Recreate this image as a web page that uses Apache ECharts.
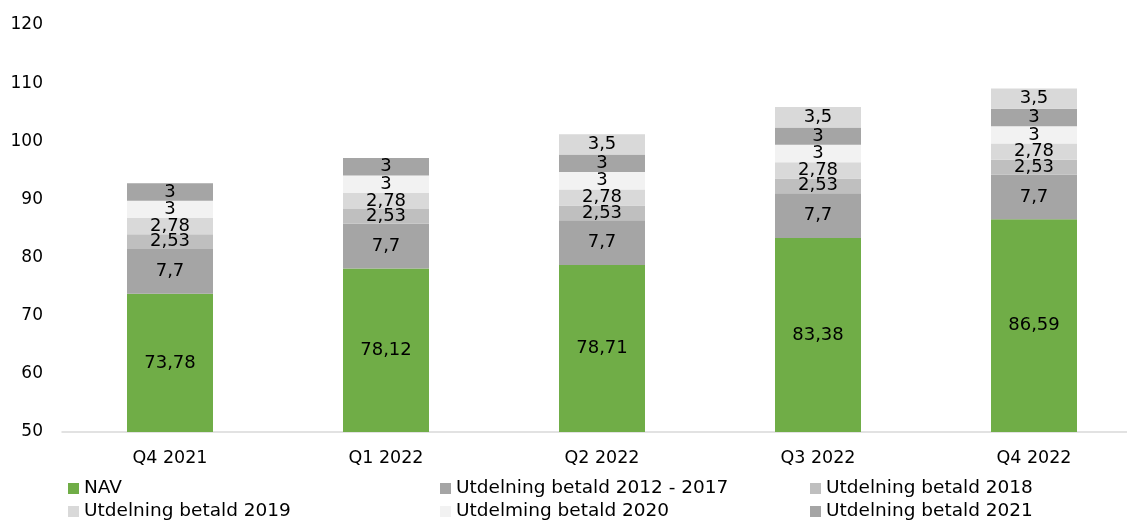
<!DOCTYPE html>
<html><head><meta charset="utf-8">
<script src="https://cdn.jsdelivr.net/npm/echarts@6/dist/echarts.min.js"></script>
<style>html,body{margin:0;padding:0;background:#fff}#c{width:1127px;height:520px}</style>
</head><body><div id="c"></div>
<script>
const categories = ['Q4 2021','Q1 2022','Q2 2022','Q3 2022','Q4 2022'];
const nav = [73.78, 78.12, 78.71, 83.38, 86.59];
const u2012_2017 = [7.7, 7.7, 7.7, 7.7, 7.7];
const u2018 = [2.53, 2.53, 2.53, 2.53, 2.53];
const u2019 = [2.78, 2.78, 2.78, 2.78, 2.78];
const u2020 = [3, 3, 3, 3, 3];
const u2021 = [3, 3, 3, 3, 3];
const u2022 = [null, null, 3.5, 3.5, 3.5];
const names = ['NAV','Utdelning betald 2012 - 2017','Utdelning betald 2018','Utdelning betald 2019','Utdelming betald 2020','Utdelning betald 2021','Utdelning betald 2022'];
const colors = ['#70ad47','#a5a5a5','#bfbfbf','#d9d9d9','#f2f2f2','#a5a5a5','#d9d9d9'];
const values = [nav,u2012_2017,u2018,u2019,u2020,u2021,u2022];
const FONT = 'DejaVu Sans';
const fmt = p => String(p.value).replace('.', ',');
const series = values.map((d,i)=>({
  name: names[i], type:'bar', stack:'s', data:d, barWidth:86,
  itemStyle:{color:colors[i]},
  label:{show:true, position:'inside', formatter:fmt, color:'#000', fontFamily:FONT, fontSize:18}
}));
// legend placement: column x, row y
const legendPos = [[68,478],[440,478],[810,478],[68,501],[440,501],[810,501],[68,524]];
const legends = names.map((n,i)=>({
  data:[n], left:legendPos[i][0], top:legendPos[i][1], orient:'horizontal',
  itemWidth:11, itemHeight:11, icon:'rect', padding:0,
  textStyle:{fontFamily:FONT, fontSize:18.5, color:'#000', lineHeight:21, padding:[0,0,0,0]}
}));
const chart = echarts.init(document.getElementById('c'));
chart.setOption({
  animation:false,
  grid:{left:62, top:25, width:1080, height:407, outerBoundsMode:'none', containLabel:false},
  legend:legends,
  xAxis:{type:'category', data:categories,
    axisLine:{lineStyle:{color:'#d9d9d9', width:1.5}}, axisTick:{show:false},
    axisLabel:{fontFamily:FONT, fontSize:17.5, color:'#000', margin:17}},
  yAxis:{type:'value', min:50, max:120, interval:10,
    splitLine:{show:false}, axisLine:{show:false}, axisTick:{show:false},
    axisLabel:{fontFamily:FONT, fontSize:17, color:'#000', margin:19}},
  series
});
</script></body></html>
